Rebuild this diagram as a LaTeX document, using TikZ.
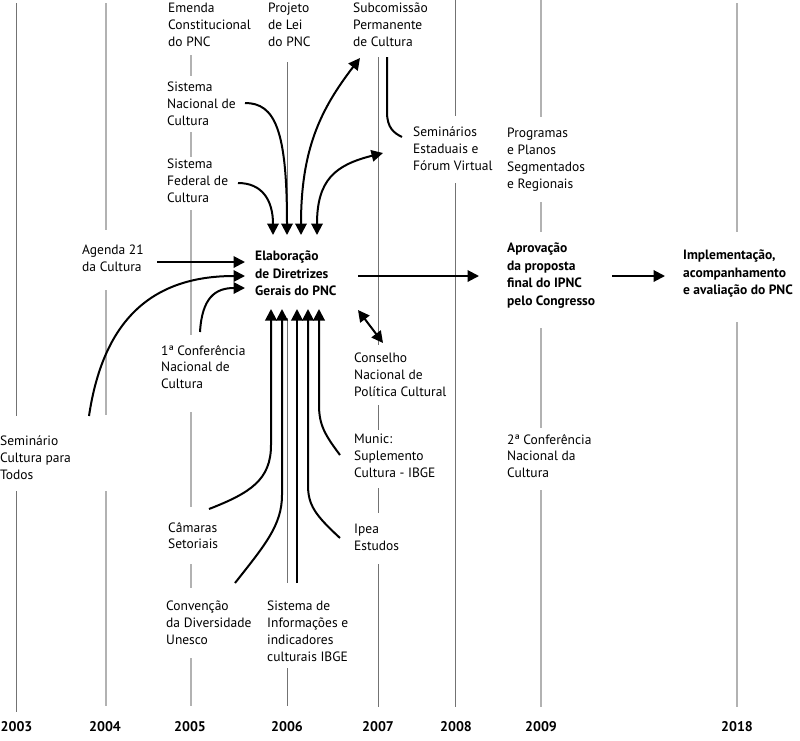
\documentclass[tikz,border=0pt]{standalone}
\usepackage{fontspec}
\setmainfont{PT Sans}
\usetikzlibrary{arrows.meta}
\begin{document}
\begin{tikzpicture}[x=1pt,y=-1pt,
 lbl/.style={anchor=north west, inner sep=0pt, align=left, font=\fontsize{13.5}{16.8}\selectfont},
 blbl/.style={anchor=north west, inner sep=0pt, align=left, font=\fontsize{13.5}{17.5}\selectfont\bfseries},
 yr/.style={inner sep=0pt, font=\fontsize{14}{16}\selectfont\bfseries},
 gl/.style={draw=black!30, line width=1.4pt},
 gd/.style={draw=black!55, line width=0.8pt},
 conn/.style={line width=2pt, -{Triangle[length=11.5pt,width=11.5pt]}},
 conntwo/.style={line width=2pt, {Triangle[length=11.5pt,width=11.5pt]}-{Triangle[length=11.5pt,width=11.5pt]}},
 link/.style={line width=2pt},
]
\useasboundingbox (0,0) rectangle (800,740);
% ---------- grid lines ----------
\draw[gd] (16,3) -- (16,416);  \draw[gd] (16,491) -- (16,712);
\draw[gl] (106,3) -- (106,230); \draw[gl] (106,290) -- (106,415); \draw[gl] (106,491) -- (106,706);
\draw[gl] (191,55) -- (191,76); \draw[gl] (191,132) -- (191,157); \draw[gl] (191,210) -- (191,335);
\draw[gl] (191,412) -- (191,507); \draw[gl] (191,564) -- (191,588); \draw[gl] (191,658) -- (191,706);
\draw[gd] (287,62) -- (287,228); \draw[gd] (287,318) -- (287,583); \draw[gd] (287,668) -- (287,706);
\draw[gd] (378,57) -- (378,345); \draw[gd] (378,405) -- (378,430); \draw[gd] (378,488) -- (378,513); \draw[gd] (378,564) -- (378,707);
\draw[gd] (455,0) -- (455,116); \draw[gd] (455,183) -- (455,707);
\draw[gl] (541,0) -- (541,117); \draw[gl] (541,202) -- (541,232); \draw[gl] (541,328) -- (541,428); \draw[gl] (541,490) -- (541,707);
\draw[gl] (737,3) -- (737,232); \draw[gl] (737,322) -- (737,707);
% ---------- texts ----------
\node[lbl] (emenda) at (168,3) {Emenda\\Constitucional\\do PNC};
\node[lbl] (projeto) at (268,3) {Projeto\\de Lei\\do PNC};
\node[lbl] (subcom) at (353,3) {Subcomissão\\Permanente\\de Cultura};
\node[lbl] (sisnac) at (167,82) {Sistema\\Nacional de\\Cultura};
\node[lbl] (sisfed) at (167,159) {Sistema\\Federal de\\Cultura};
\node[lbl] (seminarios) at (413,127) {Seminários\\Estaduais e\\Fórum Virtual};
\node[lbl] (programas) at (507,128) {Programas\\e Planos\\Segmentados\\e Regionais};
\node[lbl] (agenda) at (82,245) {Agenda 21\\da Cultura};
\node[blbl] (elab) at (255,251) {Elaboração\\de Diretrizes\\Gerais do PNC};
\node[blbl] (aprov) at (507,243) {Aprovação\\da proposta\\final do IPNC\\pelo Congresso};
\node[blbl] (impl) at (683,250) {Implementação,\\acompanhamento\\e avaliação do PNC};
\node[lbl] (conf1) at (161,345) {1ª Conferência\\Nacional de\\Cultura};
\node[lbl] (conselho) at (354,353) {Conselho\\Nacional de\\Política Cultural};
\node[lbl] (seminario) at (0,436) {Seminário\\Cultura para\\Todos};
\node[lbl] (munic) at (354,434) {Munic:\\Suplemento\\Cultura - IBGE};
\node[lbl] (conf2) at (507,434) {2ª Conferência\\Nacional da\\Cultura};
\node[lbl] (camaras) at (168,522) {Câmaras\\Setoriais};
\node[lbl] (ipea) at (354,524) {Ipea\\Estudos};
\node[lbl] (convencao) at (166,601) {Convenção\\da Diversidade\\Unesco};
\node[lbl] (sisinfo) at (267,601) {Sistema de\\Informações e\\indicadores\\culturais IBGE};
% ---------- years ----------
\node[yr] (y2003) at (16.5,727) {2003};
\node[yr] (y2004) at (105,727) {2004};
\node[yr] (y2005) at (190,727) {2005};
\node[yr] (y2006) at (287,727) {2006};
\node[yr] (y2007) at (378,727) {2007};
\node[yr] (y2008) at (456,727) {2008};
\node[yr] (y2009) at (541,727) {2009};
\node[yr] (y2018) at (737,727) {2018};
% ---------- connector end points ----------
\coordinate (agS) at (157,262); \coordinate (agE) at (245,262);
\coordinate (scS) at (89,416);  \coordinate (scE) at (245,276);
\coordinate (c1S) at (200,332); \coordinate (c1E) at (245,288);
\coordinate (sfS) at (238,183); \coordinate (sfE) at (273,235);
\coordinate (snS) at (245,103); \coordinate (snE) at (287,235);
\coordinate (suA) at (301,235); \coordinate (suB) at (360,58);
\coordinate (seA) at (317,235); \coordinate (seB) at (383,153);
\coordinate (ssA) at (387,57);  \coordinate (ssB) at (402,137);
\coordinate (coA) at (358,310); \coordinate (coB) at (383,343);
\coordinate (eaS) at (358,276); \coordinate (eaE) at (479,276);
\coordinate (aiS) at (612,276); \coordinate (aiE) at (665,276);
\coordinate (u1S) at (209,509); \coordinate (u1E) at (271,309);
\coordinate (u2S) at (235,583); \coordinate (u2E) at (282,309);
\coordinate (u3S) at (297,583); \coordinate (u3E) at (297,309);
\coordinate (u4S) at (340,538); \coordinate (u4E) at (308,309);
\coordinate (u5S) at (340,455); \coordinate (u5E) at (319,309);
% ---------- connectors ----------
\draw[conn] (agS) -- (agE);
\draw[conn] (scS) .. controls (103,322) and (150,276) .. (scE);
\draw[conn] (c1S) .. controls (202,298) and (215,288) .. (c1E);
\draw[conn] (sfS) .. controls (262,183) and (273,200) .. (sfE);
\draw[conn] (snS) .. controls (275,103) and (287,130) .. (snE);
\draw[conntwo] (suA) .. controls (301,150) and (320,110) .. (suB);
\draw[conntwo] (seA) .. controls (317,180) and (335,165) .. (seB);
\draw[link] (ssA) -- (387,112) .. controls (387,128) and (394,133) .. (ssB);
\draw[conntwo] (coA) -- (coB);
\draw[conn] (eaS) -- (eaE);
\draw[conn] (aiS) -- (aiE);
\draw[conn] (u1S) .. controls (250,493) and (271,480) .. (271,445) -- (u1E);
\draw[conn] (u2S) .. controls (265,545) and (282,525) .. (282,495) -- (u2E);
\draw[conn] (u3S) -- (u3E);
\draw[conn] (u4S) .. controls (315,515) and (308,505) .. (308,485) -- (u4E);
\draw[conn] (u5S) .. controls (325,435) and (319,425) .. (319,405) -- (u5E);
\end{tikzpicture}
\end{document}
